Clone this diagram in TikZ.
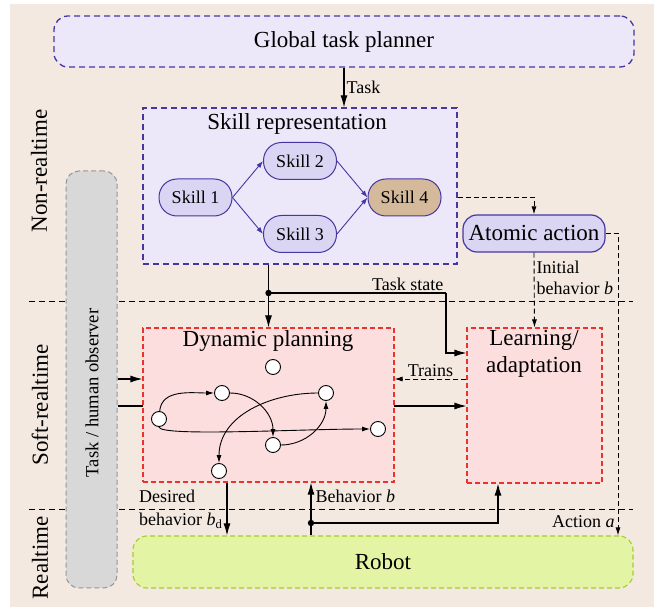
\documentclass[tikz,border=0pt]{standalone}
\usepackage{fontspec}
\setmainfont{Liberation Serif}
\usetikzlibrary{positioning,arrows.meta,calc}

\definecolor{bgbeige}{RGB}{243,233,224}
\definecolor{lavender}{RGB}{236,232,249}
\definecolor{skillfill}{RGB}{217,213,242}
\definecolor{skillline}{RGB}{70,54,162}
\definecolor{tanfill}{RGB}{212,186,154}
\definecolor{pinkfill}{RGB}{253,222,223}
\definecolor{redline}{RGB}{232,52,44}
\definecolor{robotfill}{RGB}{228,244,165}
\definecolor{robotline}{RGB}{166,204,46}
\definecolor{obsfill}{RGB}{216,216,216}
\definecolor{obsline}{RGB}{150,150,150}

\tikzset{
  bigtext/.style={font=\fontsize{23}{27}\selectfont},
  smalltext/.style={font=\fontsize{18}{21}\selectfont},
  planbox/.style={draw=skillline, fill=lavender, line width=1.3pt, dash pattern=on 6pt off 4pt},
  skillnode/.style={draw=skillline, fill=skillfill, line width=1pt, rounded corners=18pt,
    minimum width=73pt, minimum height=37pt, inner sep=0pt, smalltext},
  redbox/.style={draw=redline, fill=pinkfill, line width=1.1pt, dash pattern=on 5pt off 3pt},
  gnode/.style={circle, draw, fill=white, line width=0.9pt, minimum size=15pt, inner sep=0pt},
  conn/.style={line width=1.1pt, -{Latex[length=12pt,width=7pt]}},
  dconn/.style={line width=0.9pt, dash pattern=on 5pt off 3pt, -{Latex[length=8pt,width=5pt]}},
  gconn/.style={line width=0.9pt, -{Latex[length=8pt,width=5pt]}},
  sconn/.style={skillline, line width=0.9pt, -{Latex[length=7pt,width=5pt]}},
  divider/.style={line width=1pt, dash pattern=on 6pt off 4pt},
}

\begin{document}
\begin{tikzpicture}[x=1pt, y=1pt]
\useasboundingbox (0,0) rectangle (654,-609);
\fill[bgbeige] (10,-4) rectangle (654,-607);
% layers
\draw[divider] (29,-302) -- (633,-302);
\draw[divider] (29,-510) -- (633,-510);
\node[bigtext, rotate=90] (nonrt) at (39,-171) {Non-realtime};
\node[bigtext, rotate=90] (softrt) at (40,-405) {Soft-realtime};
\node[bigtext, rotate=90] (rt) at (40,-558) {Realtime};

% planner and skills
\node[planbox, rounded corners=14pt, minimum width=580pt, minimum height=51pt, bigtext] (global) at (344,-41.5) {Global task planner};
\node[planbox, minimum width=314pt, minimum height=156pt] (skillrep) at (300,-186) {};
\node[bigtext] (skilltitle) at (297,-124) {Skill representation};
\node[skillnode] (s1) at (195.5,-197.5) {Skill 1};
\node[skillnode] (s2) at (300,-161) {Skill 2};
\node[skillnode] (s3) at (300,-234) {Skill 3};
\node[skillnode, fill=tanfill] (s4) at (404.5,-197.5) {Skill 4};
\node[draw=skillline, fill=skillfill, line width=1.2pt, rounded corners=14pt, minimum width=142pt, minimum height=37pt, bigtext] (atomic) at (534,-233.5) {Atomic action};

% observer, learning, robot
\node[draw=obsline, fill=obsfill, line width=1pt, dash pattern=on 5pt off 3pt, rounded corners=13pt, minimum width=51pt, minimum height=417pt] (observer) at (91.5,-379.5) {};
\node[font=\fontsize{18.6}{21}\selectfont, rotate=90] (obstext) at (92,-393) {Task / human observer};
\node[redbox, minimum width=135pt, minimum height=155pt] (learn) at (534.5,-405.5) {};
\node[bigtext, align=center] (learntitle) at (534,-354) {Learning/\\adaptation};
\node[draw=robotline, fill=robotfill, line width=1.1pt, dash pattern=on 5pt off 3pt, rounded corners=14pt, minimum width=500pt, minimum height=52pt, bigtext] (robot) at (383,-562) {Robot};

\coordinate (inlvl) at (0,-379);
\coordinate (outlvl) at (0,-406);
\draw[conn] (observer.east |- outlvl) -- (learn.west |- outlvl);

% dynamic planning
\node[redbox, minimum width=251pt, minimum height=154pt] (dynplan) at (268.5,-405) {};
\node[bigtext] (dyntitle) at (268,-341) {Dynamic planning};
\node[gnode] (n0) at (273,-367) {};
\node[gnode] (n1) at (222,-393) {};
\node[gnode] (n2) at (159,-419) {};
\node[gnode] (n3) at (326,-393) {};
\node[gnode] (n4) at (378,-429) {};
\node[gnode] (n5) at (273,-445) {};
\node[gnode] (n6) at (219,-471) {};
\draw[gconn] (n2) to[out=85, in=180] (n1);
\draw[gconn] (n1) to[out=0, in=90] (n5);
\draw[gconn] (n5) to[out=0, in=-90] (n3);
\draw[gconn] (n3) to[out=180, in=90] (n6);
\draw[gconn] (n2.south) .. controls +(0,-10) and +(-70,0) .. (n4.west);

% skill graph
\draw[sconn] (s1.east) -- (s2.west);
\draw[sconn] (s1.east) -- (s3.west);
\draw[sconn] (s2.east) -- (s4.west);
\draw[sconn] (s3.east) -- (s4.west);

% connectors
\draw[conn] (global.south) -- (global.south |- skillrep.north) node[midway, right, smalltext, inner sep=2pt] {Task};
\draw[dconn] (skillrep.east |- s4.east) -| (atomic.north);
\draw[dconn] (atomic.south) -- (learn.north) node[pos=0.34, right, smalltext, align=left, inner sep=2pt] {Initial\\behavior \textit{b}};
\coordinate (acorner) at (618,-233.5);
\draw[dconn] (atomic.east) -- (acorner) -- (acorner |- robot.north) node[pos=0.954, left, smalltext, inner sep=3pt] {Action \textit{a}};

\coordinate (tsdot) at (268.5,-293);
\coordinate (tsbend) at (446,-353);
\draw[conn] (dynplan.north |- skillrep.south) -- (dynplan.north);
\draw[line width=1.1pt] (tsdot) -- (tsdot -| tsbend) node[above left, smalltext, inner sep=2pt] {Task state};
\draw[conn] (tsdot -| tsbend) -- (tsbend) -- (tsbend -| learn.west);
\fill (tsdot) circle (3.2pt);

\draw[conn] (observer.east |- inlvl) -- (dynplan.west |- inlvl);
\draw[dconn] (learn.west |- inlvl) -- (dynplan.east |- inlvl) node[midway, above, smalltext, inner sep=2pt] {Trains};

\coordinate (bdx) at (227,0);
\draw[conn] (dynplan.south -| bdx) -- (robot.north -| bdx) node[midway, left, smalltext, align=left, inner sep=4pt] {Desired\\[2pt]behavior \textit{b}\textsubscript{d}};
\coordinate (bdot) at (311,-523);
\coordinate (bcorner) at (498,-523);
\draw[conn] (robot.north -| bdot) -- (dynplan.south -| bdot) node[pos=0.73, right, smalltext, inner sep=4pt] {Behavior \textit{b}};
\draw[conn] (bdot) -- (bcorner) -- (bcorner |- learn.south);
\fill (bdot) circle (3.2pt);
\end{tikzpicture}
\end{document}
